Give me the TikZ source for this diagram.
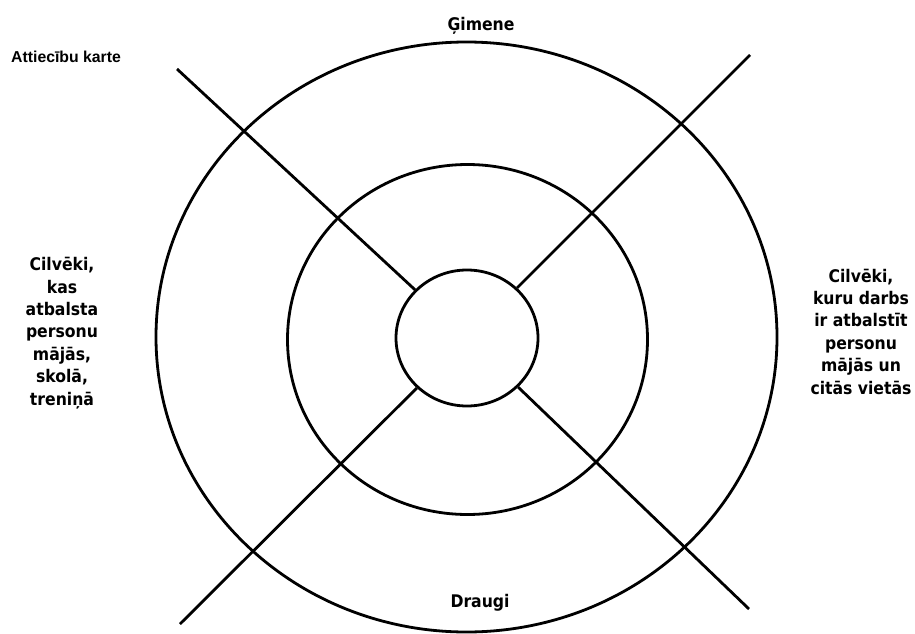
\documentclass[tikz,border=0pt]{standalone}
\usepackage{fontspec}
\newfontfamily\lblfont{DejaVu Sans Condensed}
\newfontfamily\titlefont{Liberation Sans}
\usetikzlibrary{shapes.geometric}
\tikzset{
  ring/.style={draw, ellipse, inner sep=0pt, line width=2.8pt},
  spoke/.style={line width=2.8pt},
  lbl/.style={font=\lblfont\bfseries\fontsize{17.4}{22.4}\selectfont, align=center, inner sep=0pt},
}
\begin{document}
\begin{tikzpicture}[x=1pt,y=-1pt]
\useasboundingbox (0,0) rectangle (915,634);
\node[ring, minimum width=621pt, minimum height=590pt] (outer) at (466.5,337) {};
\node[ring, minimum width=360pt, minimum height=350pt] (middle) at (467.5,339.5) {};
\node[ring, minimum width=142pt, minimum height=136pt] (inner) at (467,338) {};
\coordinate (ul) at (177,69);
\coordinate (ur) at (750,55);
\coordinate (ll) at (180,624);
\coordinate (lr) at (749,609);
\draw[spoke] (ul) -- (inner);
\draw[spoke] (ur) -- (inner);
\draw[spoke] (ll) -- (inner);
\draw[spoke] (lr) -- (inner);
\node[lbl, anchor=base] (top) at (481,31) {Ģimene};
\node[lbl, anchor=base] (bottom) at (480,607) {Draugi};
\node[font=\titlefont\bfseries\fontsize{15.8}{19}\selectfont, anchor=base west, inner sep=0pt] (title) at (11,63) {Attiecību karte};
\node[lbl] (left) at (62,333) {Cilvēki,\\kas\\atbalsta\\personu\\mājās,\\skolā,\\treniņā};
\node[lbl] (right) at (861,331.5) {Cilvēki,\\kuru darbs\\ir atbalstīt\\personu\\mājās un\\citās vietās};
\end{tikzpicture}
\end{document}
